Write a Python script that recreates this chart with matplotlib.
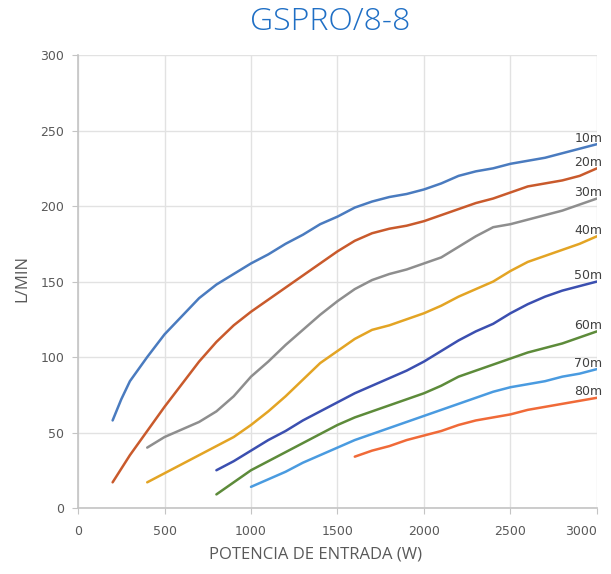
import numpy as np
import matplotlib.pyplot as plt

# potencia de entrada (W) y caudal (L/min)
w_10 = [200, 250, 300, 400, 500, 600, 700, 800, 900, 1000, 1100, 1200, 1300, 1400, 1500,
        1600, 1700, 1800, 1900, 2000, 2100, 2200, 2300, 2400, 2500, 2600, 2700, 2800, 2900, 3000]
q_10 = [58, 72, 84, 100, 115, 127, 139, 148, 155, 162, 168, 175, 181, 188, 193,
        199, 203, 206, 208, 211, 215, 220, 223, 225, 228, 230, 232, 235, 238, 241]

w_20 = [200, 300, 400, 500, 600, 700, 800, 900, 1000, 1100, 1200, 1300, 1400, 1500,
        1600, 1700, 1800, 1900, 2000, 2100, 2200, 2300, 2400, 2500, 2600, 2700, 2800, 2900, 3000]
q_20 = [17, 35, 51, 67, 82, 97, 110, 121, 130, 138, 146, 154, 162, 170,
        177, 182, 185, 187, 190, 194, 198, 202, 205, 209, 213, 215, 217, 220, 225]

w_30 = [400, 500, 600, 700, 800, 900, 1000, 1100, 1200, 1300, 1400, 1500, 1600, 1700,
        1800, 1900, 2000, 2100, 2200, 2300, 2400, 2500, 2600, 2700, 2800, 2900, 3000]
q_30 = [40, 47, 52, 57, 64, 74, 87, 97, 108, 118, 128, 137, 145, 151,
        155, 158, 162, 166, 173, 180, 186, 188, 191, 194, 197, 201, 205]

w_40 = [400, 500, 600, 700, 800, 900, 1000, 1100, 1200, 1300, 1400, 1500, 1600, 1700,
        1800, 1900, 2000, 2100, 2200, 2300, 2400, 2500, 2600, 2700, 2800, 2900, 3000]
q_40 = [17, 23, 29, 35, 41, 47, 55, 64, 74, 85, 96, 104, 112, 118,
        121, 125, 129, 134, 140, 145, 150, 157, 163, 167, 171, 175, 180]

w_50 = [800, 900, 1000, 1100, 1200, 1300, 1400, 1500, 1600, 1700, 1800, 1900, 2000,
        2100, 2200, 2300, 2400, 2500, 2600, 2700, 2800, 2900, 3000]
q_50 = [25, 31, 38, 45, 51, 58, 64, 70, 76, 81, 86, 91, 97,
        104, 111, 117, 122, 129, 135, 140, 144, 147, 150]

w_60 = [800, 900, 1000, 1100, 1200, 1300, 1400, 1500, 1600, 1700, 1800, 1900, 2000,
        2100, 2200, 2300, 2400, 2500, 2600, 2700, 2800, 2900, 3000]
q_60 = [9, 17, 25, 31, 37, 43, 49, 55, 60, 64, 68, 72, 76,
        81, 87, 91, 95, 99, 103, 106, 109, 113, 117]

w_70 = [1000, 1100, 1200, 1300, 1400, 1500, 1600, 1700, 1800, 1900, 2000,
        2100, 2200, 2300, 2400, 2500, 2600, 2700, 2800, 2900, 3000]
q_70 = [14, 19, 24, 30, 35, 40, 45, 49, 53, 57, 61,
        65, 69, 73, 77, 80, 82, 84, 87, 89, 92]

w_80 = [1600, 1700, 1800, 1900, 2000, 2100, 2200, 2300, 2400, 2500, 2600, 2700, 2800, 2900, 3000]
q_80 = [34, 38, 41, 45, 48, 51, 55, 58, 60, 62, 65, 67, 69, 71, 73]

labels = ["10m", "20m", "30m", "40m", "50m", "60m", "70m", "80m"]
series = [(w_10, q_10), (w_20, q_20), (w_30, q_30), (w_40, q_40),
          (w_50, q_50), (w_60, q_60), (w_70, q_70), (w_80, q_80)]
colors = ["#4a7bbf", "#c95a2c", "#8e8e8e", "#e3a424",
          "#3b4fb0", "#5d8b3a", "#4a9be0", "#f06a38"]

fig = plt.figure(figsize=(6.11, 5.74), dpi=100)
ax = fig.add_axes([0.1277, 0.115, 0.8493, 0.789])

for (w, q), c, lab in zip(series, colors, labels):
    ax.plot(w, q, color=c, lw=1.8, solid_capstyle="round", solid_joinstyle="round")
    ax.text(2950, q[-1] + 4, lab, ha="center", va="center",
            fontsize=9, color="#404040")

ax.set_xlim(0, 3000)
ax.set_ylim(0, 300)
ax.set_xticks(np.arange(0, 3001, 500))
ax.set_yticks(np.arange(0, 301, 50))
ax.grid(True, color="#e2e2e2", lw=1.0)
ax.set_axisbelow(True)
for s in ["top", "right"]:
    ax.spines[s].set_visible(False)
for s in ["left", "bottom"]:
    ax.spines[s].set_color("#c4c4c4")
    ax.spines[s].set_linewidth(1.2)
ax.tick_params(colors="#c4c4c4", labelcolor="#595959", labelsize=9, length=4)
ax.tick_params(axis="x", pad=8)
ax.tick_params(axis="y", pad=6)
ax.get_xticklabels()[-1].set_horizontalalignment("right")

fig.text(0.54, 0.962, "GSPRO/8-8", ha="center", va="center",
         fontsize=23, color="#1f6fc5", family="Open Sans", fontweight="light")
fig.text(0.036, 0.515, "L/MIN", rotation=90, ha="center", va="center",
         fontsize=12, color="#595959", family="Open Sans")
fig.text(0.517, 0.034, "POTENCIA DE ENTRADA (W)", ha="center", va="center",
         fontsize=12, color="#595959", family="Open Sans")

fig.savefig("out.png", dpi=100)
